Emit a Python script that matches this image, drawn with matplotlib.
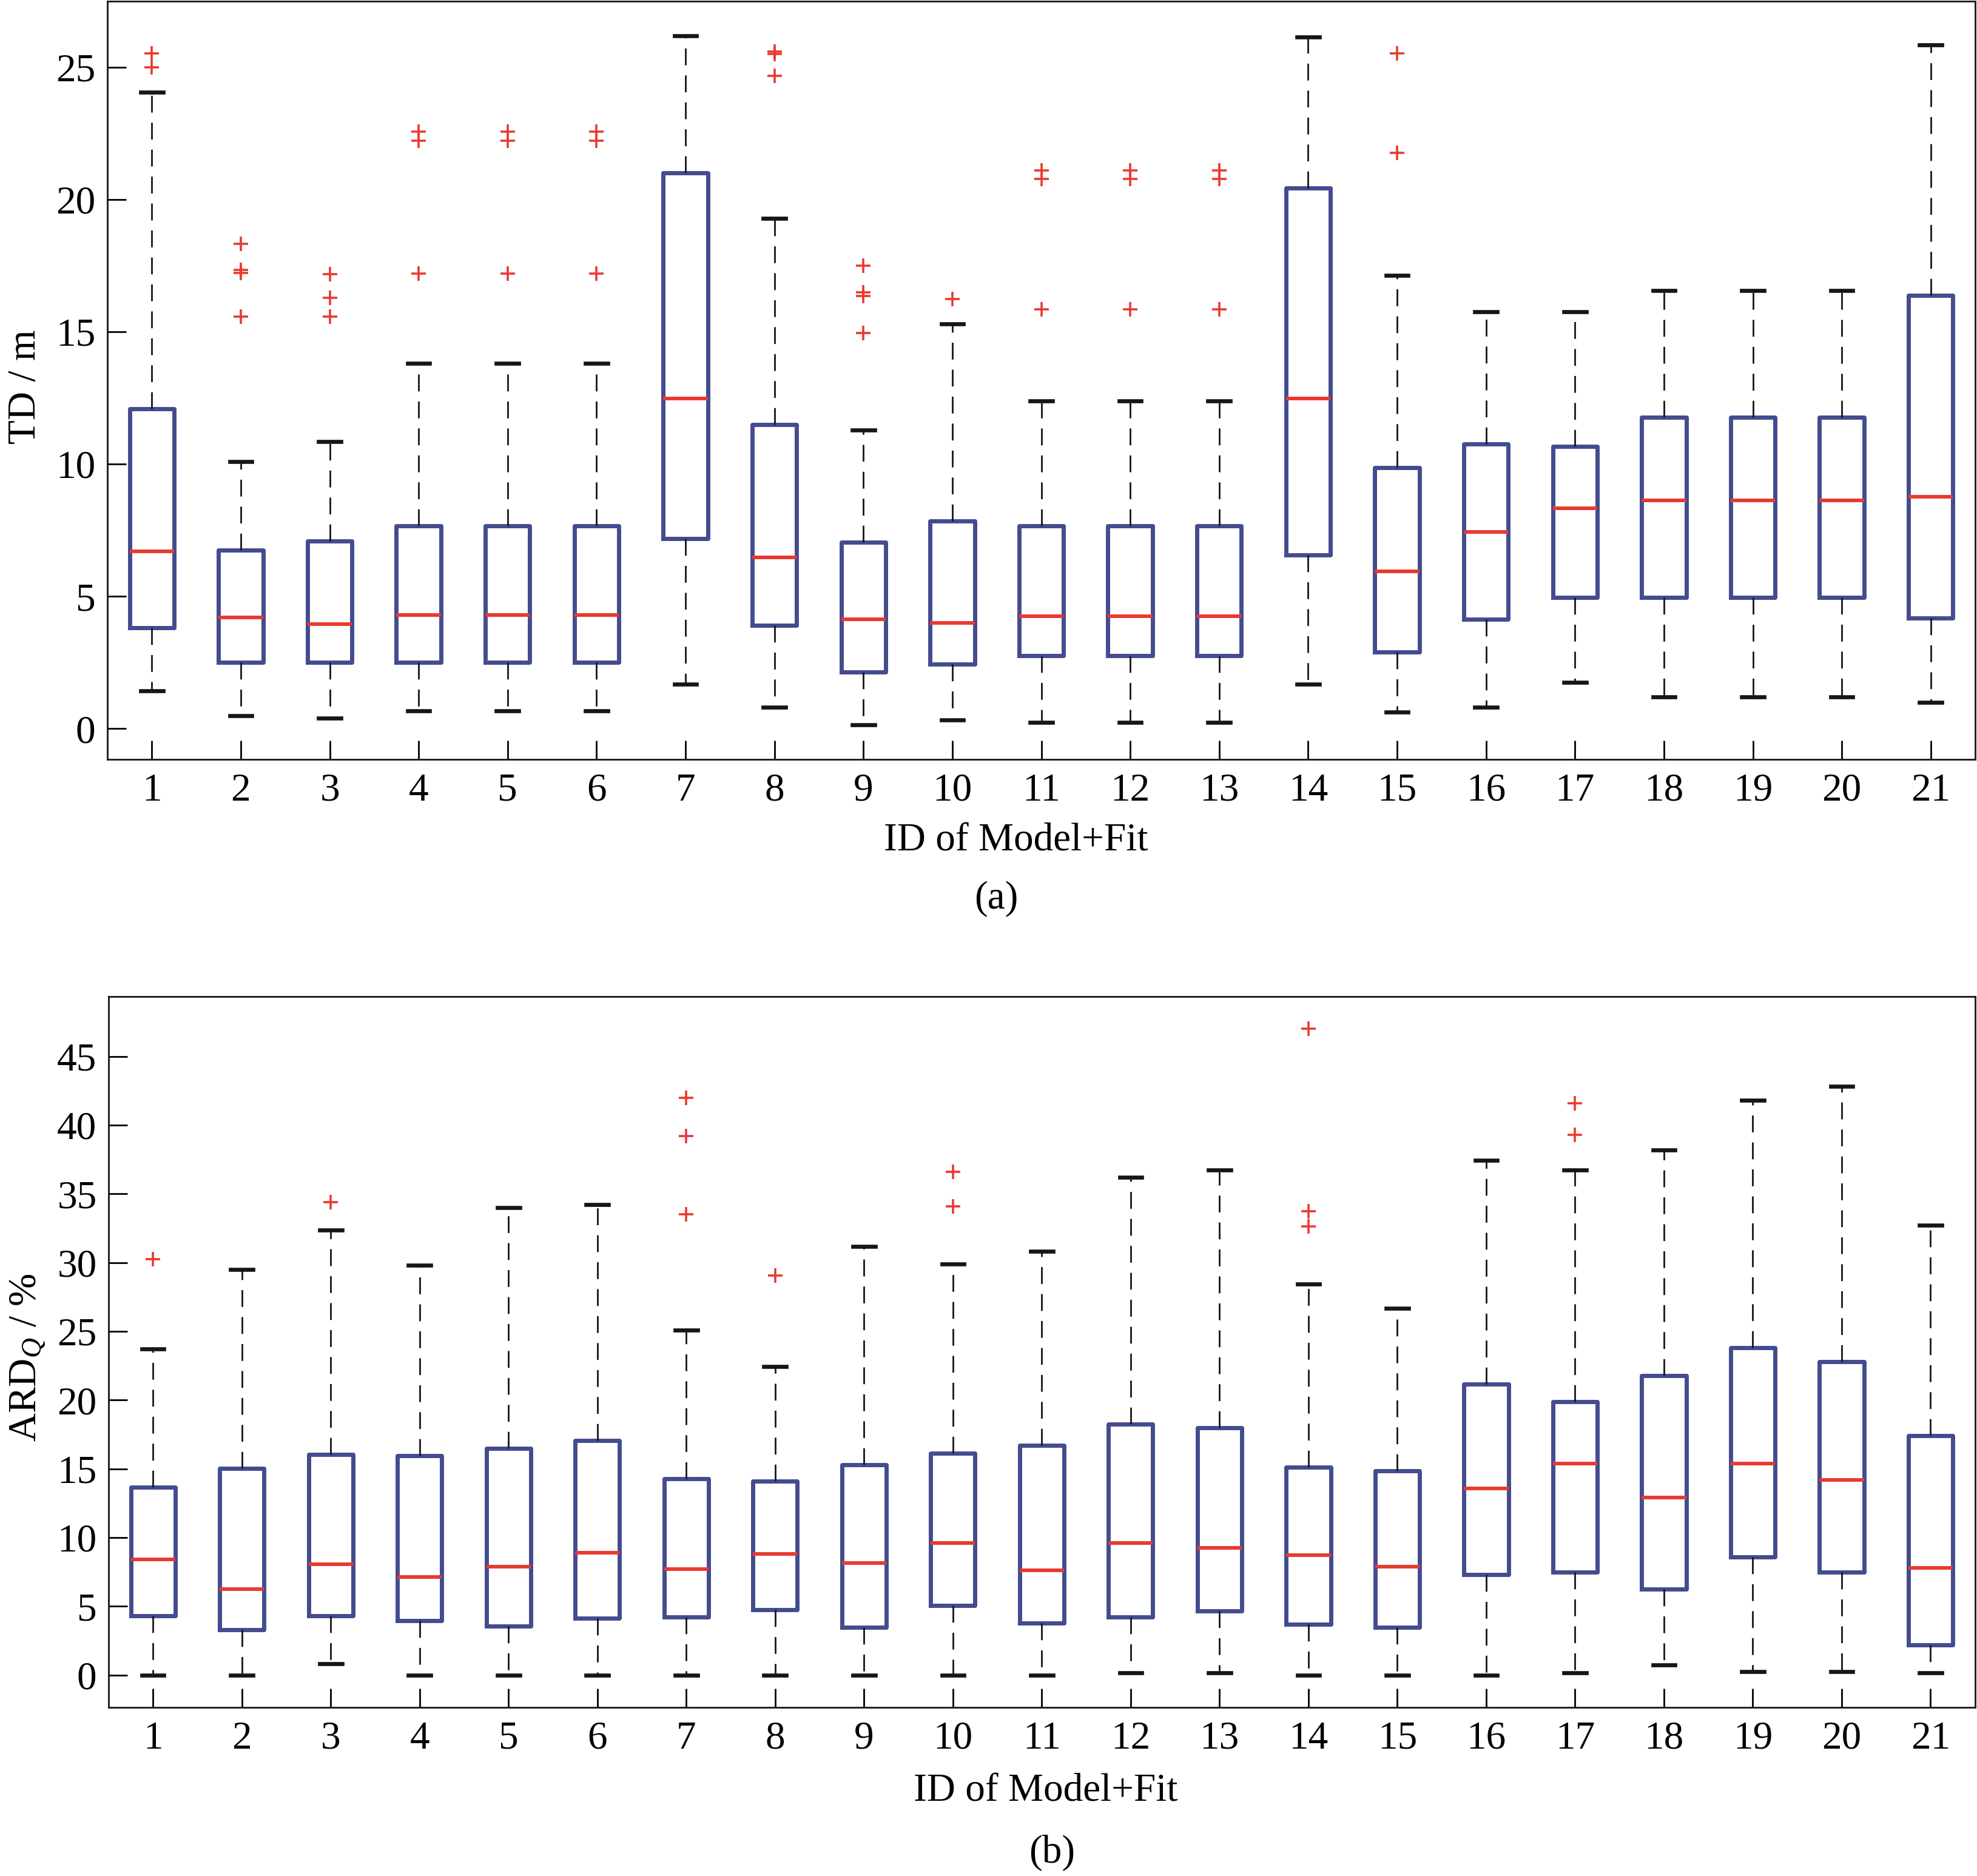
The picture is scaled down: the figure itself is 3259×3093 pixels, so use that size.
import matplotlib
matplotlib.use("Agg")
import matplotlib.pyplot as plt
import numpy as np

plt.rcParams['font.family'] = ['Liberation Serif', 'DejaVu Serif']
plt.rcParams['mathtext.fontset'] = 'custom'
plt.rcParams['mathtext.rm'] = 'Liberation Serif'
plt.rcParams['mathtext.it'] = 'Liberation Serif:italic'

#===========================================================
# --- Data -------------------------------------------------
#===========================================================

ids = list(range(1, 22))

# (a) TD / m
td_med = [6.71, 4.20, 3.95, 4.29, 4.29, 4.29, 12.48, 6.48, 4.14, 4.00, 4.24,
          4.24, 4.24, 12.48, 5.95, 7.43, 8.33, 8.62, 8.62, 8.62, 8.76]
td_q1 = [3.81, 2.50, 2.50, 2.50, 2.50, 2.50, 7.19, 3.90, 2.14, 2.43, 2.76,
         2.76, 2.76, 6.57, 2.90, 4.14, 4.95, 4.95, 4.95, 4.95, 4.19]
td_q3 = [12.09, 6.75, 7.10, 7.67, 7.67, 7.67, 21.00, 11.50, 7.05, 7.86, 7.67,
         7.67, 7.67, 20.43, 9.86, 10.76, 10.67, 11.76, 11.76, 11.76, 16.38]
td_lo = [1.43, 0.50, 0.40, 0.67, 0.67, 0.67, 1.67, 0.80, 0.14, 0.33, 0.24,
         0.24, 0.24, 1.67, 0.62, 0.81, 1.76, 1.19, 1.19, 1.19, 1.00]
td_hi = [24.06, 10.10, 10.86, 13.80, 13.80, 13.80, 26.20, 19.28, 11.29, 15.31, 12.38,
         12.38, 12.38, 26.14, 17.14, 15.76, 15.76, 16.57, 16.57, 16.57, 25.86]
td_out = [[25.53, 24.99], [18.33, 17.34, 17.22, 15.57], [17.18, 16.28, 15.57],
          [22.57, 22.22, 17.20], [22.57, 22.22, 17.20], [22.57, 22.22, 17.20],
          [], [25.60, 25.50, 24.69], [17.51, 16.50, 16.36, 14.95], [16.23],
          [21.11, 20.79, 15.86], [21.11, 20.79, 15.86], [21.11, 20.79, 15.86],
          [], [25.53, 21.76], [], [], [], [], [], []]

# (b) ARD_Q / %
ard_med = [8.43, 6.23, 8.07, 7.15, 7.88, 8.90, 7.70, 8.80, 8.16, 9.62, 7.60,
           9.62, 9.26, 8.70, 7.88, 13.57, 15.40, 12.90, 15.40, 14.20, 7.80]
ard_q1 = [4.31, 3.30, 4.31, 3.94, 3.57, 4.12, 4.20, 4.77, 3.48, 5.04, 3.76,
          4.20, 4.67, 3.67, 3.48, 7.33, 7.50, 6.23, 8.60, 7.50, 2.20]
ard_q3 = [13.66, 15.03, 16.04, 15.95, 16.50, 17.05, 14.30, 14.10, 15.30, 16.13, 16.70,
          18.24, 17.97, 15.12, 14.85, 21.17, 19.90, 21.80, 23.80, 22.80, 17.40]
ard_lo = [0.0, 0.0, 0.82, 0.0, 0.0, 0.0, 0.0, 0.0, 0.0, 0.0, 0.0,
          0.18, 0.18, 0.0, 0.0, 0.0, 0.18, 0.73, 0.27, 0.27, 0.18]
ard_hi = [23.74, 29.50, 32.36, 29.80, 34.00, 34.20, 25.10, 22.46, 31.16, 29.90, 30.80,
          36.20, 36.75, 28.44, 26.67, 37.43, 36.75, 38.20, 41.80, 42.80, 32.70]
ard_out = [[30.25], [], [34.40], [], [], [], [42.00, 39.20, 33.50], [29.06], [],
           [36.60, 34.10], [], [], [], [47.00, 33.73, 32.63], [], [], [41.60, 39.30],
           [], [], [], []]

#===========================================================
# --- Styles ---------------------------------------------
#===========================================================

blue = '#434c8e'
red = '#e83a30'
black = '#1a1412'
fs = 47

def make_stats(med, q1, q3, lo, hi, out):
    stats = []
    for i in range(len(med)):
        stats.append({'med': med[i], 'q1': q1[i], 'q3': q3[i],
                      'whislo': lo[i], 'whishi': hi[i], 'fliers': out[i]})
    return stats

def draw_panel(ax, stats, yticks):
    ax.bxp(stats, positions=ids, widths=0.5, capwidths=0.25,
           boxprops=dict(color=blue, linewidth=5.0),
           medianprops=dict(color=red, linewidth=4.3),
           whiskerprops=dict(color=black, linewidth=2.0, linestyle=(0, (10, 6))),
           capprops=dict(color=black, linewidth=4.8),
           flierprops=dict(marker='+', markeredgecolor=red, markersize=17,
                           markeredgewidth=2.6, linestyle='none'))
    # matlab style limits: 5% padding around data range
    allv = [s['whislo'] for s in stats] + [s['whishi'] for s in stats]
    for s in stats:
        allv += list(s['fliers'])
    lo, hi = min(allv), max(allv)
    pad = 0.05 * (hi - lo)
    ax.set_ylim(lo - pad, hi + pad)
    ax.set_xlim(0.5, 21.5)
    ax.set_xticks(ids)
    ax.set_xticklabels([str(i) for i in ids])
    ax.set_yticks(yticks)
    ax.tick_params(direction='in', length=22, width=2, labelsize=fs,
                   top=False, right=False)
    ax.tick_params(axis='x', pad=16)
    ax.tick_params(axis='y', pad=14)
    for sp in ax.spines.values():
        sp.set_linewidth(2.0)
        sp.set_color(black)

#===========================================================
# --- Figure ---------------------------------------------
#===========================================================

fig = plt.figure(figsize=(32.59, 30.93), dpi=100)

ax1 = fig.add_axes([0.0543, 0.5952, 0.9448, 0.4042])
draw_panel(ax1, make_stats(td_med, td_q1, td_q3, td_lo, td_hi, td_out),
           [0, 5, 10, 15, 20, 25])

ax2 = fig.add_axes([0.0549, 0.0899, 0.9441, 0.3789])
draw_panel(ax2, make_stats(ard_med, ard_q1, ard_q3, ard_lo, ard_hi, ard_out),
           [0, 5, 10, 15, 20, 25, 30, 35, 40, 45])

fig.text(0.0129, 0.7937, 'TD / m', rotation=90, ha='center', va='center', fontsize=fs)
fig.text(0.0141, 0.2764, 'ARD$_{Q}$ / %', rotation=90, ha='center', va='center', fontsize=fs)

fig.text(0.514, 0.5515, 'ID of Model+Fit', ha='center', va='center', fontsize=fs)
fig.text(0.504, 0.5209, '(a)', ha='center', va='center', fontsize=fs)
fig.text(0.529, 0.0449, 'ID of Model+Fit', ha='center', va='center', fontsize=fs)
fig.text(0.532, 0.0123, '(b)', ha='center', va='center', fontsize=fs)

fig.savefig('out.png', dpi=100)
